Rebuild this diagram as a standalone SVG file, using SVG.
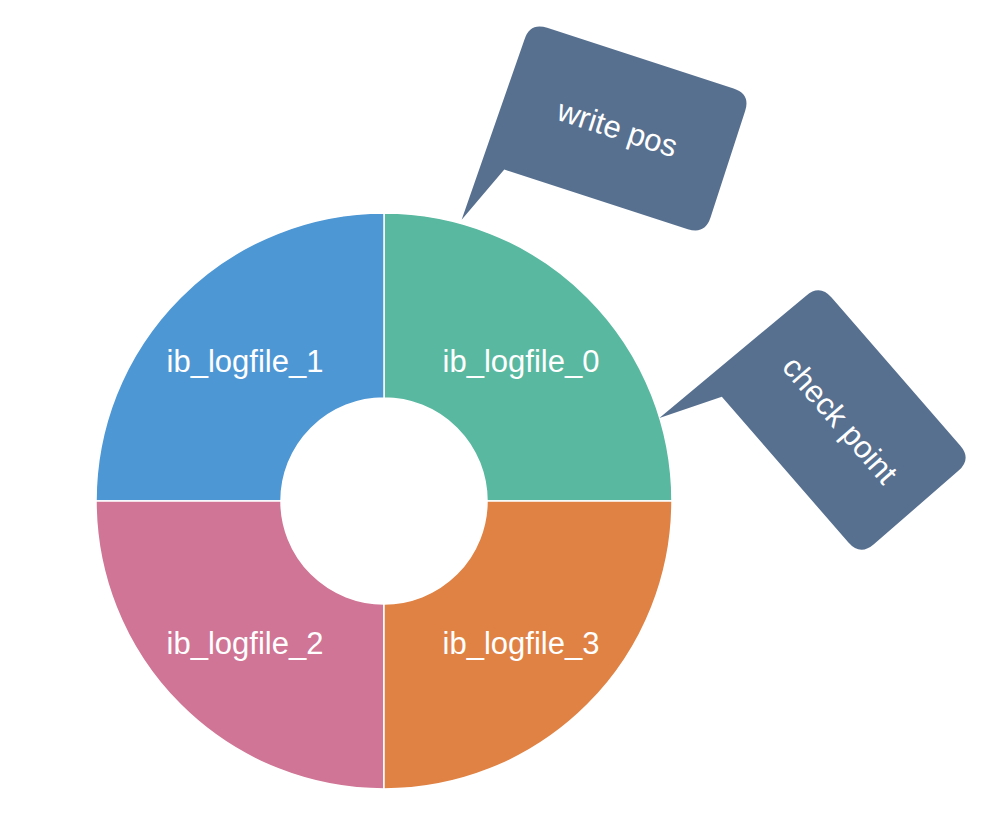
<svg xmlns="http://www.w3.org/2000/svg" width="1000" height="835" viewBox="0 0 1000 835">
<defs>
<style>
.seg{stroke:#ffffff;stroke-width:1.5}
.lbl{font-family:"Liberation Sans",Arial,sans-serif;font-size:31px;fill:#ffffff;text-anchor:middle;dominant-baseline:central}
.callout{fill:#577090}
</style>
<path id="bubble" d="M -98,-74 H 98 Q 116,-74 116,-56 V 56 Q 116,74 98,74 H -95 L -120,135 L -116,-56 Q -116,-74 -98,-74 Z"/>
</defs>
<rect width="1000" height="835" fill="#ffffff"/>
<g id="ring">
<g id="seg0"><path class="seg" fill="#59B8A0" d="M 384,213 A 288,288 0 0 1 672,501 L 487,501 A 103,103 0 0 0 384,398 Z"/><text class="lbl" x="521" y="361">ib_logfile_0</text></g>
<g id="seg1"><path class="seg" fill="#4E97D5" d="M 384,213 A 288,288 0 0 0 96,501 L 281,501 A 103,103 0 0 1 384,398 Z"/><text class="lbl" x="245" y="361">ib_logfile_1</text></g>
<g id="seg2"><path class="seg" fill="#D07595" d="M 96,501 A 288,288 0 0 0 384,789 L 384,604 A 103,103 0 0 1 281,501 Z"/><text class="lbl" x="245" y="643">ib_logfile_2</text></g>
<g id="seg3"><path class="seg" fill="#E08244" d="M 672,501 A 288,288 0 0 1 384,789 L 384,604 A 103,103 0 0 0 487,501 Z"/><text class="lbl" x="521" y="643">ib_logfile_3</text></g>
</g>
<g id="connectors"></g>
<g id="callout-write" transform="translate(617.5,128.5) rotate(18)">
<use href="#bubble" class="callout"/>
<text class="lbl" x="0" y="0">write pos</text>
</g>
<g id="callout-check" transform="translate(840,420) rotate(49)">
<use href="#bubble" class="callout"/>
<text class="lbl" x="0" y="0">check point</text>
</g>
</svg>
